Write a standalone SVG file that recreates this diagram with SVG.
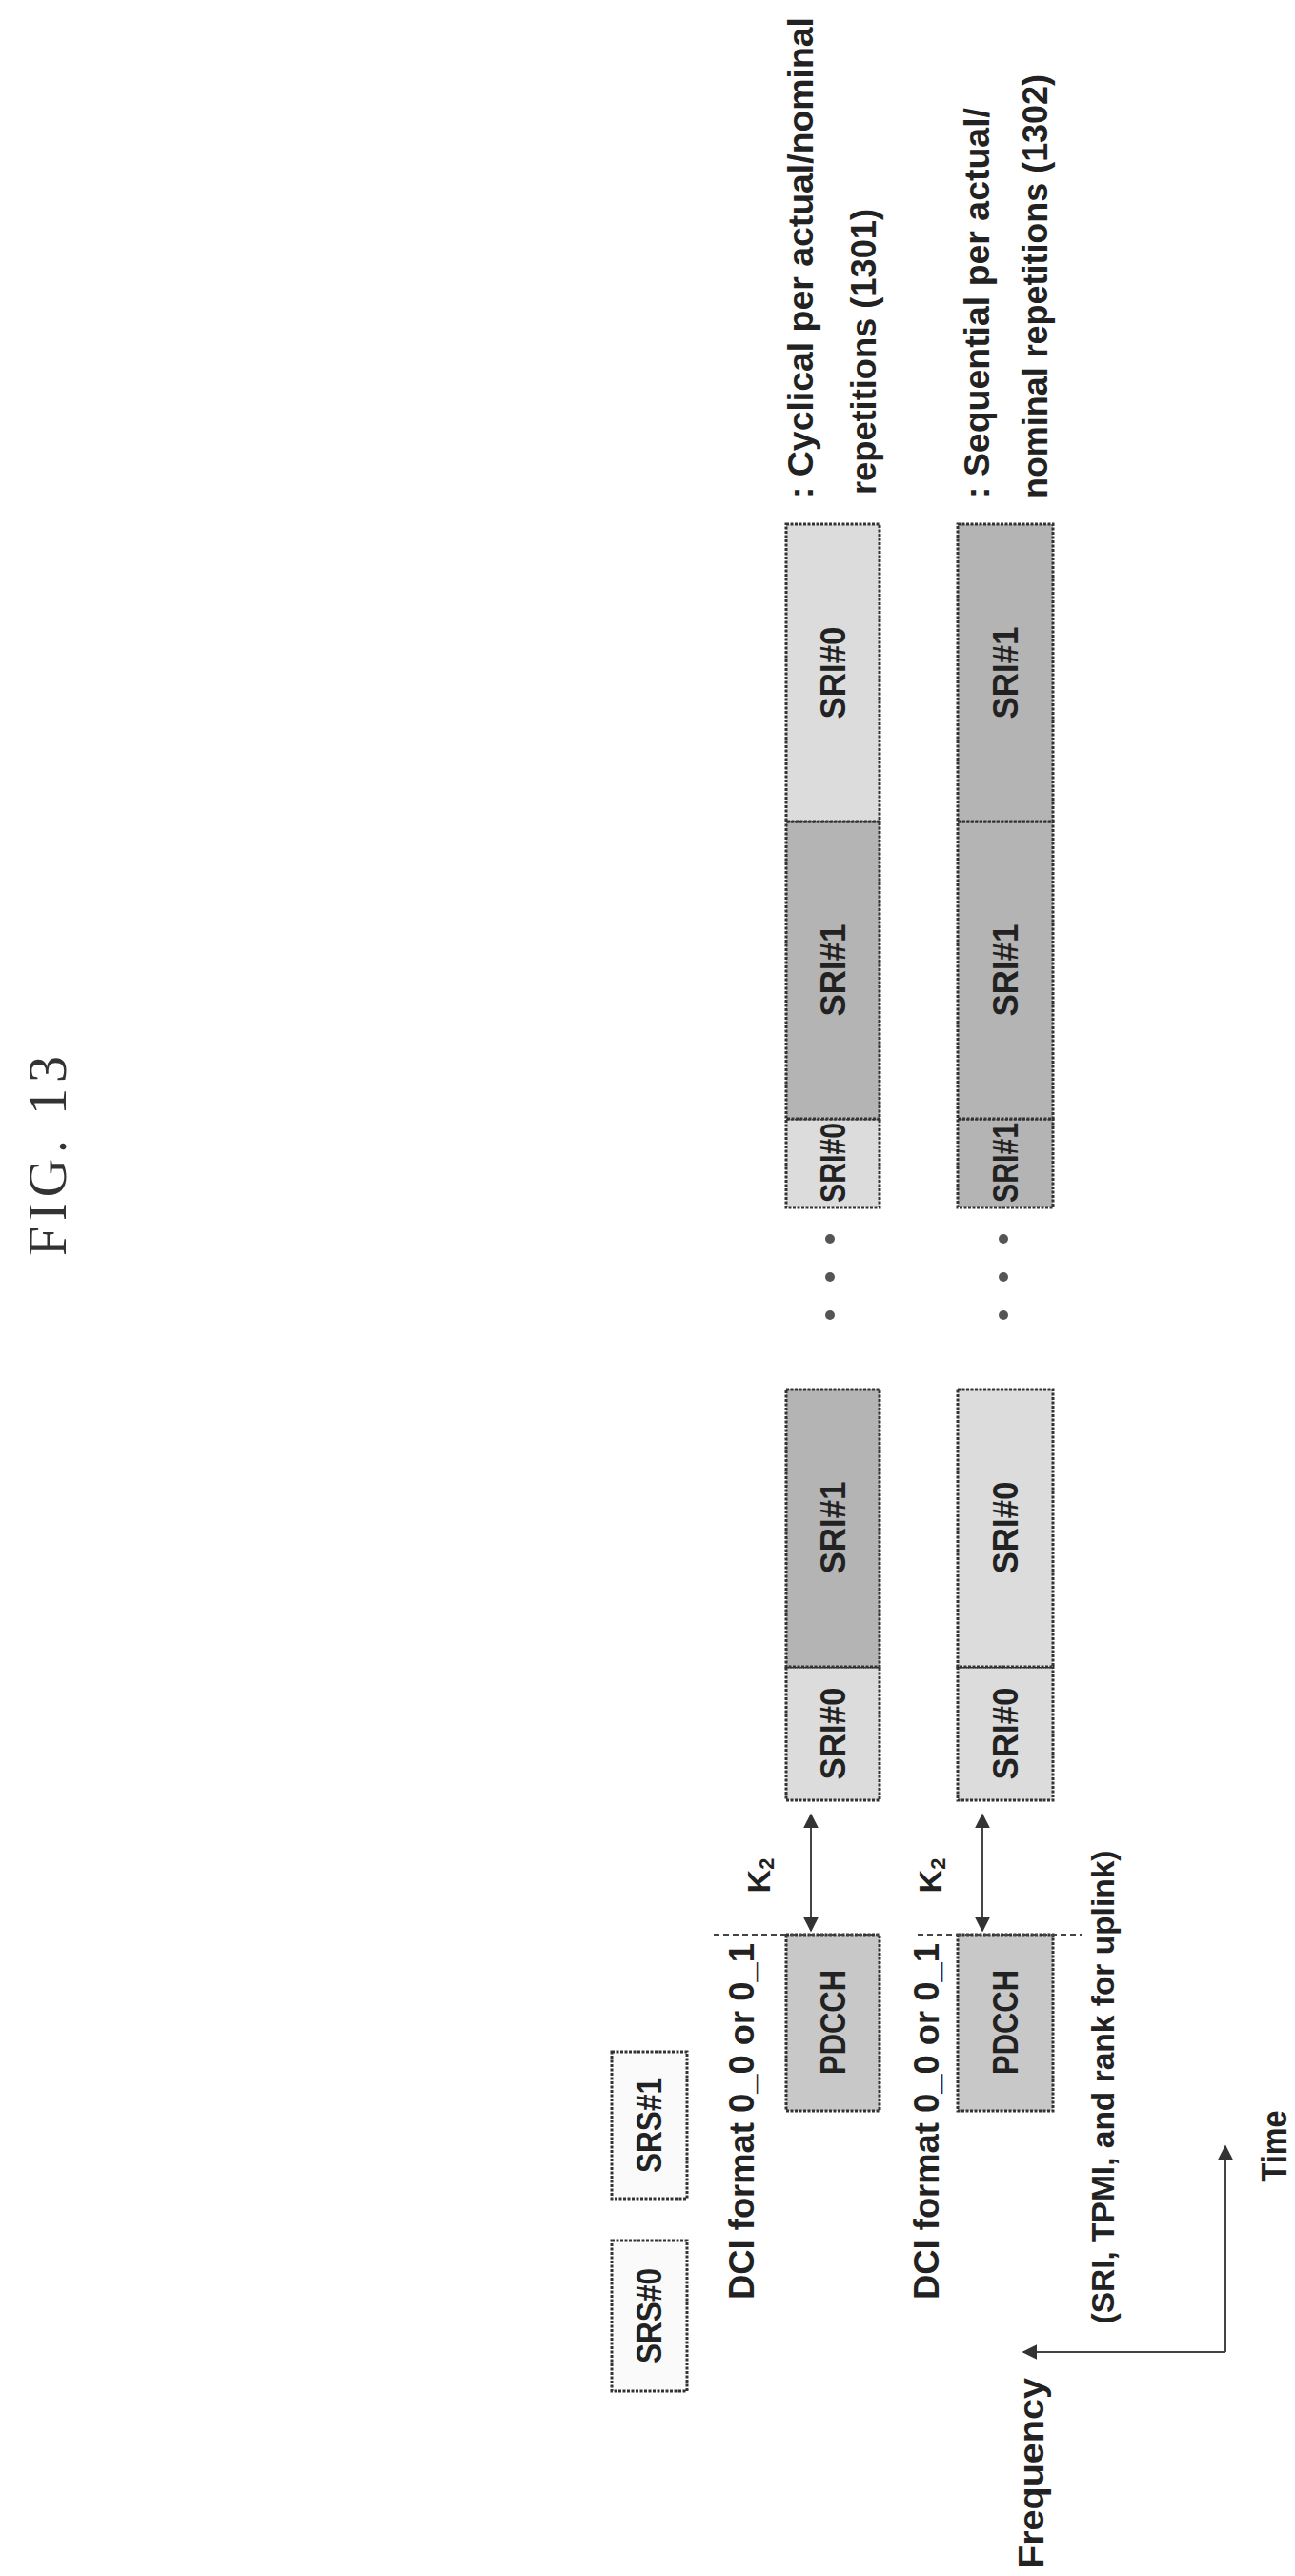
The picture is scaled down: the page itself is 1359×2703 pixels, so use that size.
<svg xmlns="http://www.w3.org/2000/svg" width="1359" height="2703" viewBox="0 0 1359 2703">
<style>
.t{font-family:"Liberation Sans",Arial,sans-serif;font-weight:bold;fill:#222;text-anchor:middle;dominant-baseline:central}
.l{font-family:"Liberation Sans",Arial,sans-serif;font-weight:bold;fill:#222;text-anchor:start;dominant-baseline:central}
.b{stroke:#333;stroke-width:3;stroke-dasharray:3 1.5}
.lt{fill:#dcdcdc}.dk{fill:#b4b4b4}.md{fill:#c8c8c8}.w{fill:#fafafa}
.ln{stroke:#444;stroke-width:2;fill:none}
</style>
<defs>
<marker id="a" viewBox="0 0 10 10" refX="9" refY="5" markerWidth="8" markerHeight="8" orient="auto-start-reverse"><path d="M0,0L10,5L0,10z" fill="#333"/></marker>
</defs>
<text x="0" y="0" transform="translate(50,1210) rotate(-90)" font-family="Liberation Serif,serif" font-size="56" fill="#333" text-anchor="middle" dominant-baseline="central" letter-spacing="6">FIG. 13</text>
<g id="srs0"><rect class="b w" x="642" y="2351" width="79" height="158"/><text class="t" font-size="36" transform="translate(681,2430) rotate(-90)" textLength="100" lengthAdjust="spacingAndGlyphs">SRS#0</text></g>
<g id="srs1"><rect class="b w" x="642" y="2153" width="79" height="154"/><text class="t" font-size="36" transform="translate(681,2230) rotate(-90)" textLength="100" lengthAdjust="spacingAndGlyphs">SRS#1</text></g>
<g id="dci1"><text class="t" font-size="36" transform="translate(778,2226) rotate(-90)" textLength="374" lengthAdjust="spacingAndGlyphs">DCI format 0_0 or 0_1</text></g>
<g id="dci2"><text class="t" font-size="36" transform="translate(972,2226) rotate(-90)" textLength="374" lengthAdjust="spacingAndGlyphs">DCI format 0_0 or 0_1</text></g>
<g id="pdcch1"><rect class="b md" x="825" y="2030" width="98" height="185"/><text class="t" font-size="36" transform="translate(874,2122) rotate(-90)" textLength="110" lengthAdjust="spacingAndGlyphs">PDCCH</text></g>
<g id="pdcch2"><rect class="b md" x="1005" y="2030" width="100" height="185"/><text class="t" font-size="36" transform="translate(1055,2122) rotate(-90)" textLength="110" lengthAdjust="spacingAndGlyphs">PDCCH</text></g>
<g id="row1a"><rect class="b lt" x="825" y="1749" width="98" height="140"/><text class="t" font-size="36" transform="translate(874,1819) rotate(-90)" textLength="97" lengthAdjust="spacingAndGlyphs">SRI#0</text>
<rect class="b dk" x="825" y="1458" width="98" height="291"/><text class="t" font-size="36" transform="translate(874,1603) rotate(-90)" textLength="97" lengthAdjust="spacingAndGlyphs">SRI#1</text></g>
<g id="row2a"><rect class="b lt" x="1005" y="1749" width="100" height="140"/><text class="t" font-size="36" transform="translate(1055,1819) rotate(-90)" textLength="97" lengthAdjust="spacingAndGlyphs">SRI#0</text>
<rect class="b lt" x="1005" y="1458" width="100" height="291"/><text class="t" font-size="36" transform="translate(1055,1603) rotate(-90)" textLength="97" lengthAdjust="spacingAndGlyphs">SRI#0</text></g>
<g id="row1b"><rect class="b lt" x="825" y="1174" width="98" height="93"/><text class="t" font-size="36" transform="translate(874,1220) rotate(-90)" textLength="84" lengthAdjust="spacingAndGlyphs">SRI#0</text>
<rect class="b dk" x="825" y="862" width="98" height="312"/><text class="t" font-size="36" transform="translate(874,1018) rotate(-90)" textLength="97" lengthAdjust="spacingAndGlyphs">SRI#1</text>
<rect class="b lt" x="825" y="550" width="98" height="312"/><text class="t" font-size="36" transform="translate(874,706) rotate(-90)" textLength="97" lengthAdjust="spacingAndGlyphs">SRI#0</text></g>
<g id="row2b"><rect class="b dk" x="1005" y="1174" width="100" height="93"/><text class="t" font-size="36" transform="translate(1055,1220) rotate(-90)" textLength="84" lengthAdjust="spacingAndGlyphs">SRI#1</text>
<rect class="b dk" x="1005" y="862" width="100" height="312"/><text class="t" font-size="36" transform="translate(1055,1018) rotate(-90)" textLength="97" lengthAdjust="spacingAndGlyphs">SRI#1</text>
<rect class="b dk" x="1005" y="550" width="100" height="312"/><text class="t" font-size="36" transform="translate(1055,706) rotate(-90)" textLength="97" lengthAdjust="spacingAndGlyphs">SRI#1</text></g>
<g id="dots"><circle cx="871" cy="1300" r="5" fill="#555"/><circle cx="871" cy="1340" r="5" fill="#555"/><circle cx="871" cy="1380" r="5" fill="#555"/>
<circle cx="1053" cy="1300" r="5" fill="#555"/><circle cx="1053" cy="1340" r="5" fill="#555"/><circle cx="1053" cy="1380" r="5" fill="#555"/></g>
<g id="legend">
<text class="l" font-size="36" transform="translate(840,523) rotate(-90)" textLength="505" lengthAdjust="spacingAndGlyphs">: Cyclical per actual/nominal</text>
<text class="l" font-size="36" transform="translate(906,519) rotate(-90)" textLength="300" lengthAdjust="spacingAndGlyphs">repetitions (1301)</text>
<text class="l" font-size="36" transform="translate(1025,523) rotate(-90)" textLength="410" lengthAdjust="spacingAndGlyphs">: Sequential per actual/</text>
<text class="l" font-size="36" transform="translate(1086,523) rotate(-90)" textLength="445" lengthAdjust="spacingAndGlyphs">nominal repetitions (1302)</text>
</g>
<g id="connectors">
<line class="ln" x1="749" y1="2030" x2="922" y2="2030" stroke-dasharray="6 4"/>
<line class="ln" x1="963" y1="2030" x2="1135" y2="2030" stroke-dasharray="6 4"/>
<line class="ln" x1="851" y1="1904" x2="851" y2="2026" marker-start="url(#a)" marker-end="url(#a)"/>
<line class="ln" x1="1031" y1="1904" x2="1031" y2="2026" marker-start="url(#a)" marker-end="url(#a)"/>
<line class="ln" x1="1286" y1="2468" x2="1074" y2="2468" marker-end="url(#a)"/>
<line class="ln" x1="1286" y1="2468" x2="1286" y2="2252" marker-end="url(#a)"/>
</g>
<g id="labels">
<text class="t" font-size="34" transform="translate(796,1968) rotate(-90)">K<tspan font-size="22" dy="8">2</tspan></text>
<text class="t" font-size="34" transform="translate(976,1968) rotate(-90)">K<tspan font-size="22" dy="8">2</tspan></text>
<text class="t" font-size="34" transform="translate(1157,2190) rotate(-90)" textLength="497" lengthAdjust="spacingAndGlyphs">(SRI, TPMI, and rank for uplink)</text>
<text class="t" font-size="36" transform="translate(1082,2595) rotate(-90)" textLength="200" lengthAdjust="spacingAndGlyphs">Frequency</text>
<text class="t" font-size="36" transform="translate(1337,2252) rotate(-90)" textLength="75" lengthAdjust="spacingAndGlyphs">Time</text>
</g>
</svg>
